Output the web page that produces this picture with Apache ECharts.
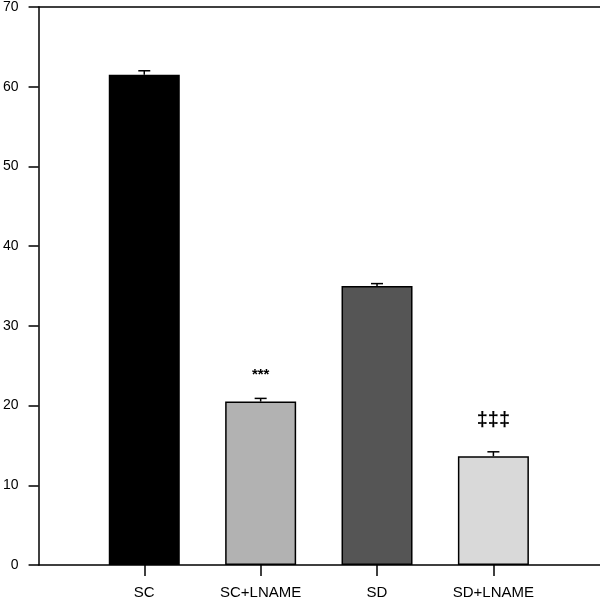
<!DOCTYPE html>
<html><head><meta charset="utf-8">
<script src="https://cdn.jsdelivr.net/npm/echarts@6/dist/echarts.min.js"></script>
<style>html,body{margin:0;padding:0;background:#fff}#c{width:600px;height:600px}</style>
</head><body><div id="c"></div>
<script>
var categories = ['SC', 'SC+LNAME', 'SD', 'SD+LNAME'];
var means = [61.5, 20.5, 35.0, 13.65];
var errors = [0.5, 0.4, 0.3, 0.55];
var barColors = ['#000000', '#b2b2b2', '#555555', '#d9d9d9'];
var marks = ['', '***', '', '\u2021\u2021\u2021'];
var yTicks = [0, 10, 20, 30, 40, 50, 60, 70];

var positions = categories.map(function (c, i) { return i + 1; });
var barData = means.map(function (m, i) {
  return { value: [positions[i], m], itemStyle: { color: barColors[i] } };
});
var errData = means.map(function (m, i) { return [positions[i], m, errors[i], i]; });

var chart = echarts.init(document.getElementById('c'), null, { renderer: 'canvas' });
var font = '"Liberation Sans", Arial, sans-serif';
chart.setOption({
  animation: false,
  grid: { left: 37, right: 0, top: 6, bottom: 33 },
  xAxis: [{
    type: 'value', min: 0.0917, max: 4.916,
    axisLine: { show: true, onZero: false, lineStyle: { color: '#000', width: 1.5 } },
    axisTick: { show: true, customValues: positions, length: 11, inside: false, lineStyle: { color: '#000', width: 1.5 } },
    axisLabel: { customValues: positions, color: '#000', fontSize: 15, fontFamily: font, margin: 20,
      formatter: function (v) { return categories[Math.round(v) - 1] || ''; } },
    splitLine: { show: false }
  }, {
    type: 'value', position: 'top', min: 0.0917, max: 4.916,
    axisLine: { show: true, onZero: false, lineStyle: { color: '#000', width: 1.5 } },
    axisTick: { show: false }, axisLabel: { show: false }, splitLine: { show: false }
  }],
  yAxis: {
    type: 'value', min: 0, max: 70, interval: 10,
    axisLine: { show: true, lineStyle: { color: '#000', width: 1.5 } },
    axisTick: { show: true, length: 10, lineStyle: { color: '#000', width: 1.5 } },
    axisLabel: { color: '#000', fontSize: 14, fontFamily: font, margin: 20,
      formatter: function (v) { return yTicks.indexOf(v) >= 0 ? String(v) : ''; } },
    splitLine: { show: false }
  },
  series: [{
    type: 'bar', xAxisIndex: 0, barWidth: 71, data: barData,
    itemStyle: { borderColor: '#000', borderWidth: 1.5 }
  }, {
    type: 'custom', xAxisIndex: 0, data: errData, z: 5,
    renderItem: function (params, api) {
      var x = api.value(0), m = api.value(1), e = api.value(2), idx = api.value(3);
      var p0 = api.coord([x, m]);
      var p1 = api.coord([x, m + e]);
      var children = [
        { type: 'line', shape: { x1: p0[0], y1: p0[1], x2: p1[0], y2: p1[1] }, style: { stroke: '#000', lineWidth: 1.5 } },
        { type: 'line', shape: { x1: p1[0] - 6, y1: p1[1], x2: p1[0] + 6, y2: p1[1] }, style: { stroke: '#000', lineWidth: 1.5 } }
      ];
      var t = marks[idx];
      if (t) {
        var dagger = t.indexOf('\u2021') >= 0;
        children.push({ type: 'text', style: { text: t, x: p1[0], y: p1[1] - (dagger ? 31 : 24),
          align: 'center', verticalAlign: 'middle', fill: '#000',
          font: 'bold ' + (dagger ? 20 : 15) + 'px ' + font } });
      }
      return { type: 'group', children: children };
    }
  }]
});
</script></body></html>
